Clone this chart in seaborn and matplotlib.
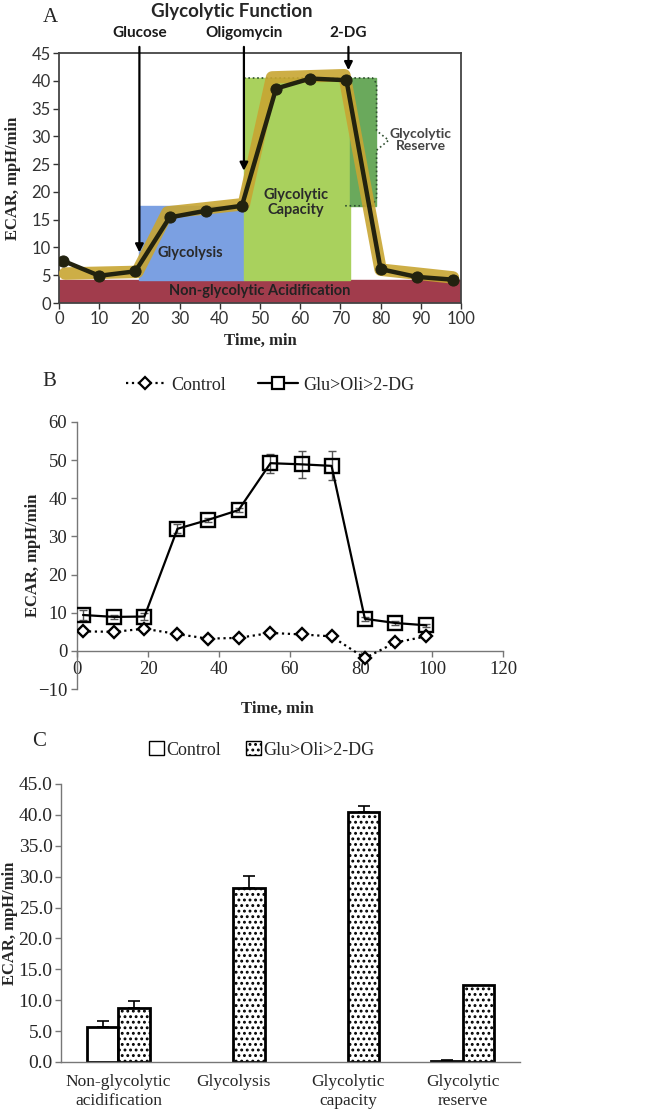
import numpy as np
import pandas as pd
import matplotlib
matplotlib.use("Agg")
import matplotlib.pyplot as plt
import seaborn as sb
from matplotlib.patches import Patch, Rectangle
from matplotlib.lines import Line2D

import warnings
warnings.filterwarnings("ignore")

# ---- Panel A: schematic glycolytic function ----
a_time = [1.0, 10, 19, 27.5, 36.5, 45.5, 54, 62.5, 71.5, 80, 89, 98]
a_ecar = [7.6, 4.9, 5.7, 15.4, 16.6, 17.5, 38.6, 40.4, 40.1, 6.1, 4.7, 4.2]
a_band_x = [1.5, 19.5, 27, 46, 53, 71, 80, 98]
a_band_y = [5.3, 5.6, 16.3, 17.8, 40.6, 41.0, 6.0, 4.6]
a_injections = ['Glucose', 'Oligomycin', '2-DG']
a_inj_time = [20, 46, 72]
a_inj_tip = [8.6, 23.3, 41.4]

# ---- Panel B: time course ----
b_time = [1.7, 10.5, 19.0, 28.3, 36.8, 45.5, 54.5, 63.3, 71.7, 81.1, 89.7, 98.4]
b_control = [5.1, 5.0, 5.8, 4.4, 3.2, 3.4, 4.7, 4.3, 3.8, -1.9, 2.2, 3.8]
b_glu = [9.4, 8.9, 9.0, 32.0, 34.3, 36.9, 49.2, 48.9, 48.5, 8.4, 7.3, 6.7]
b_glu_err = [1.2, 0.6, 0.8, 1.2, 0.6, 0.6, 2.5, 3.6, 3.8, 0.5, 0.4, 0.4]

# ---- Panel C: summary bars ----
c_cats = ['Non-glycolytic\nacidification', 'Glycolysis', 'Glycolytic\ncapacity', 'Glycolytic\nreserve']
c_control = [5.6, 0.0, 0.0, 0.2]
c_control_err = [1.1, 0.0, 0.0, 0.1]
c_glu = [8.8, 28.2, 40.5, 12.4]
c_glu_err = [1.0, 1.9, 0.9, 0.0]
groups = ['Control', 'Glu>Oli>2-DG']

sb.set_style('white')
plt.rcParams['font.family'] = ['Liberation Serif', 'DejaVu Serif']
plt.rcParams['hatch.linewidth'] = 1.3

fig = plt.figure(figsize=(6.48, 11.18), dpi=100)
W, H = 648, 1118

def box(l, t, r, b):
    return [l / W, 1 - b / H, (r - l) / W, (b - t) / H]

sans = ['Lato', 'DejaVu Sans']

# ================= Panel A =================
axA = fig.add_axes(box(59, 53, 461, 303))
axA.set_xlim(0, 100)
axA.set_ylim(0, 45)
axA.add_patch(Rectangle((0, 0), 100, 4.2, color='#a13c4c', zorder=1))
axA.add_patch(Rectangle((20, 4.2), 26, 13.3, color='#7ba0e2', zorder=1))
axA.add_patch(Rectangle((46, 4.2), 26.5, 36.3, color='#a9d15d', zorder=1))
axA.add_patch(Rectangle((72.5, 17.5), 6.3, 23.0, color='#6aa95c', zorder=1))
# dotted outline of the reserve bracket
axA.plot([46, 78, 79, 79, 82, 79, 79, 78, 70.5], [40.5, 40.5, 39.5, 31, 29.3, 27.5, 19, 17.5, 17.5],
         ls=':', color='#2f4f2f', lw=1.2, zorder=2)
sb.lineplot(x=a_band_x, y=a_band_y, ax=axA, color='#c8a532', lw=9, alpha=0.9, zorder=3)
sb.lineplot(x=a_time, y=a_ecar, ax=axA, color='#22220f', lw=3.2, marker='o', ms=8,
            mec='#22220f', zorder=4)

for name, t, tip in zip(a_injections, a_inj_time, a_inj_tip):
    axA.annotate('', xy=(t, tip), xytext=(t, 46.6), annotation_clip=False,
                 arrowprops=dict(arrowstyle='-|>', color='black', lw=1.6, mutation_scale=12),
                 zorder=6)
    axA.text(t, 47.3, name, ha='center', va='bottom', fontsize=11, fontweight='bold',
             family=sans, color='#1a1a1a')

axA.text(32.7, 9.0, 'Glycolysis', ha='center', va='center', fontsize=10.5, fontweight='bold',
         family=sans, color='#2a2a2a', zorder=5)
axA.text(59, 18.1, 'Glycolytic\nCapacity', ha='center', va='center', fontsize=10.5,
         fontweight='bold', family=sans, color='#2a2a2a', linespacing=1.05, zorder=5)
axA.text(90, 29.3, 'Glycolytic\nReserve', ha='center', va='center', fontsize=10,
         fontweight='bold', family=sans, color='#444444', linespacing=1.05, zorder=5)
axA.text(50, 2.1, 'Non-glycolytic Acidification', ha='center', va='center', fontsize=10.5,
         fontweight='bold', family=sans, color='#222222', zorder=5)

axA.set_xticks(range(0, 101, 10))
axA.set_yticks(range(0, 46, 5))
for lab in axA.get_xticklabels() + axA.get_yticklabels():
    lab.set_family(sans)
    lab.set_fontsize(12)
    lab.set_color('#333333')
axA.tick_params(direction='out', length=4, width=1, color='#333333', pad=2)
axA.tick_params(bottom=True, left=True)
for s in axA.spines.values():
    s.set_color('#444444')
    s.set_linewidth(1.3)
axA.set_xlabel('Time, min', fontsize=12, fontweight='bold', labelpad=4)
axA.set_ylabel('ECAR, mpH/min', fontsize=12, fontweight='bold')
axA.yaxis.set_label_coords(-0.095, 0.5)
fig.text(232 / W, 1 - 12 / H, 'Glycolytic Function', ha='center', va='center',
         fontsize=13.5, fontweight='bold', family=sans)
fig.text(50 / W, 1 - 17 / H, 'A', ha='center', va='center', fontsize=15)

# ================= Panel B =================
axB = fig.add_axes(box(77, 422, 503, 689))
dfB = pd.DataFrame({'time': b_time, 'control': b_control, 'glu': b_glu})
axB.errorbar(b_time, b_glu, yerr=b_glu_err, fmt='none', ecolor='#555555', elinewidth=1,
             capsize=3, zorder=2)
sb.lineplot(data=dfB, x='time', y='glu', ax=axB, color='black', lw=1.6, marker='s', ms=10,
            mfc='none', mec='black', mew=1.7, zorder=3)
sb.lineplot(data=dfB, x='time', y='control', ax=axB, color='black', lw=1.6, ls=':',
            marker='D', ms=6.5, mfc='white', mec='black', mew=1.7, zorder=4)
axB.set_xlim(0, 120)
axB.set_ylim(-10, 60)
axB.set_xticks(range(0, 121, 20))
axB.set_yticks(range(-10, 61, 10))
axB.spines['bottom'].set_position(('data', 0))
axB.spines['top'].set_visible(False)
axB.spines['right'].set_visible(False)
for s in ['left', 'bottom']:
    axB.spines[s].set_color('#777777')
    axB.spines[s].set_linewidth(1)
axB.tick_params(direction='out', length=4, width=1, color='#777777', labelsize=13.5, pad=3)
axB.tick_params(bottom=True, left=True)
axB.set_xlabel('Time, min', fontsize=12, fontweight='bold')
axB.xaxis.set_label_coords(0.47, -0.045)
axB.set_ylabel('ECAR, mpH/min', fontsize=12, fontweight='bold')
axB.yaxis.set_label_coords(-0.085, 0.5)
hB = [Line2D([], [], color='black', ls=':', lw=1.6, marker='D', ms=6.5, mfc='white', mew=1.6),
      Line2D([], [], color='black', ls='-', lw=1.6, marker='s', ms=9, mfc='white', mew=1.6)]
fig.legend(hB, groups, loc='center', bbox_to_anchor=(270 / W, 1 - 385 / H), ncol=2,
           frameon=False, fontsize=13, handlelength=2.2, handletextpad=0.3, columnspacing=1.8)
fig.text(49 / W, 1 - 381 / H, 'B', ha='center', va='center', fontsize=15)

# ================= Panel C =================
axC = fig.add_axes(box(61, 784, 520, 1062))
dfC = pd.DataFrame({'category': c_cats * 2,
                    'group': [groups[0]] * 4 + [groups[1]] * 4,
                    'value': c_control + c_glu})
sb.barplot(data=dfC, x='category', y='value', hue='group', ax=axC, width=0.55,
           palette=['white', 'white'], edgecolor='black', linewidth=2, errorbar=None,
           legend=False)
for p in axC.containers[1]:
    p.set_hatch('...')
for p in axC.containers[0]:
    if p.get_height() == 0:
        p.set_linewidth(0)
for cont, err in zip(axC.containers, [c_control_err, c_glu_err]):
    keep = [i for i, e in enumerate(err) if e > 0]
    xs = [cont[i].get_x() + cont[i].get_width() / 2 for i in keep]
    ys = [cont[i].get_height() for i in keep]
    es = [err[i] for i in keep]
    axC.errorbar(xs, ys, yerr=[np.zeros(len(es)), es], fmt='none', ecolor='black',
                 elinewidth=1.2, capsize=4, capthick=1.2, zorder=1)
axC.containers[0][3].set_facecolor('black')
axC.set_ylim(0, 45)
axC.set_yticks(np.arange(0, 45.1, 5))
axC.set_yticklabels([f'{v:.1f}' for v in np.arange(0, 45.1, 5)])
axC.set_xlim(-0.5, 3.5)
axC.spines['top'].set_visible(False)
axC.spines['right'].set_visible(False)
for s in ['left', 'bottom']:
    axC.spines[s].set_color('#777777')
    axC.spines[s].set_linewidth(1)
axC.tick_params(axis='y', direction='out', length=4, width=1, color='#777777', labelsize=14, pad=2)
axC.tick_params(axis='y', left=True)
axC.tick_params(axis='x', length=0, labelsize=12.5, pad=9)
axC.set_xlabel('')
axC.set_ylabel('ECAR, mpH/min', fontsize=12, fontweight='bold')
axC.yaxis.set_label_coords(-0.094, 0.5)
hC = [Patch(facecolor='white', edgecolor='black', lw=1),
      Patch(facecolor='white', edgecolor='black', lw=1, hatch='...')]
fig.legend(hC, groups, loc='center', bbox_to_anchor=(262 / W, 1 - 750 / H), ncol=2,
           frameon=False, fontsize=13, handlelength=0.8, handleheight=0.8,
           handletextpad=0.15, columnspacing=1.4)
fig.text(39 / W, 1 - 742 / H, 'C', ha='center', va='center', fontsize=15)

fig.savefig('out.png', dpi=100)
